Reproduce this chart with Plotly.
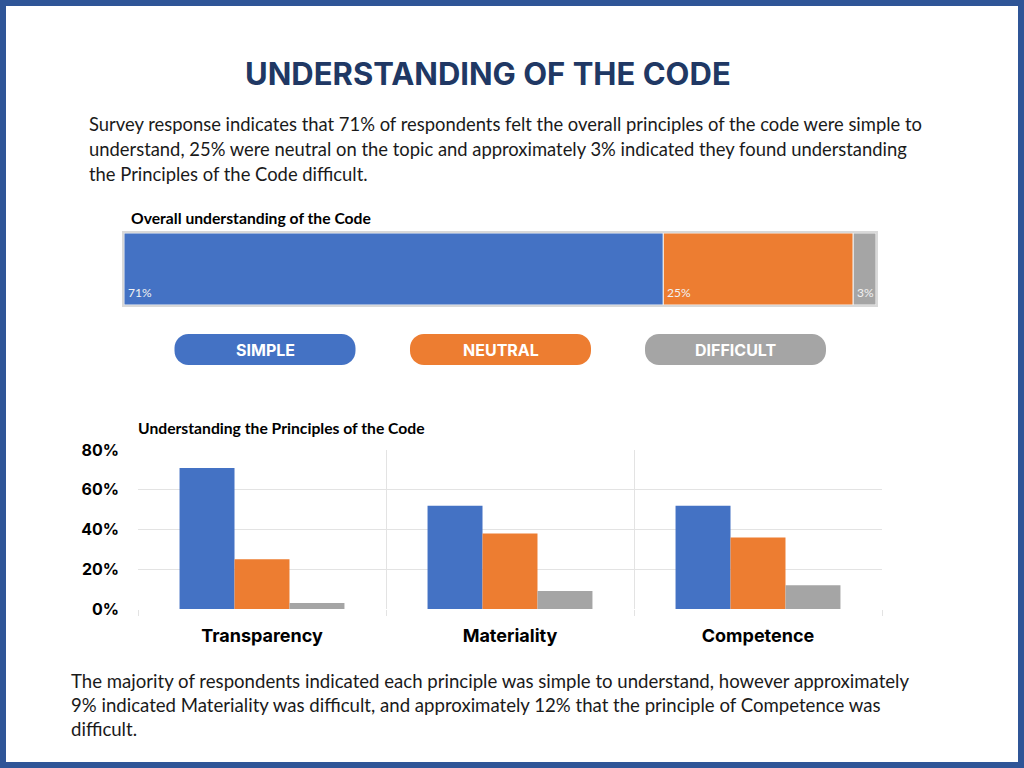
import plotly.graph_objects as go

W, H = 1024, 768

# ---------------- data ----------------
series_names = ["Simple", "Neutral", "Difficult"]
series_colors = ["#4472C4", "#ED7D31", "#A5A5A5"]
overall_values = [71, 25, 3]

principles = ["Transparency", "Materiality", "Competence"]
simple_vals = [71, 52, 52]
neutral_vals = [25, 38, 36]
difficult_vals = [3, 9, 12]

y_ticks = [0, 20, 40, 60, 80]
y_tick_labels = [f"{v}%" for v in y_ticks]

title_text = "UNDERSTANDING OF THE CODE"
intro_lines = [
    "Survey response indicates that 71% of respondents felt the overall principles of the code were simple to",
    "understand, 25% were neutral on the topic and approximately 3% indicated they found understanding",
    "the Principles of the Code difficult.",
]
outro_lines = [
    "The majority of respondents indicated each principle was simple to understand, however approximately",
    "9% indicated Materiality was difficult, and approximately 12% that the principle of Competence was",
    "difficult.",
]


def px(x):
    return x / W


def py(y):
    return 1 - y / H


BODY_FONT = "Lato, 'Open Sans', sans-serif"
HEAD_FONT = "Inter, Roboto, sans-serif"

fig = go.Figure()

# ---------------- overall stacked bar ----------------
total = sum(overall_values)
bases = []
cum = 0
for v in overall_values:
    bases.append(cum)
    cum += v

annotations = []
for name, val, base, col in zip(series_names, overall_values, bases, series_colors):
    fig.add_trace(go.Bar(
        x=[val], y=["Overall"], base=[base], orientation="h", name=name,
        marker=dict(color=col, line=dict(color="#F2F2F2", width=1)),
        xaxis="x2", yaxis="y2", showlegend=False, hoverinfo="skip",
        offsetgroup="overall", width=1,
    ))
    annotations.append(dict(
        x=base, y=0, xref="x2", yref="y2 domain", text=f"{val}%",
        xanchor="left", yanchor="bottom", xshift=2, yshift=3, showarrow=False,
        font=dict(family=BODY_FONT, size=12, color="#F2F2F2"),
    ))

# ---------------- grouped bar chart ----------------
for name, vals, col in zip(series_names, [simple_vals, neutral_vals, difficult_vals], series_colors):
    fig.add_trace(go.Bar(
        x=principles, y=vals, name=name, marker=dict(color=col, line=dict(width=0)),
        xaxis="x", yaxis="y", showlegend=False, hoverinfo="skip",
    ))

# ---------------- texts ----------------
annotations.append(dict(
    x=px(488), y=py(74), xref="paper", yref="paper", text=f"<b>{title_text}</b>",
    xanchor="center", yanchor="middle", showarrow=False,
    font=dict(family=HEAD_FONT, size=31, color="#203864"),
))
for i, line in enumerate(intro_lines):
    annotations.append(dict(
        x=px(87), y=py(124 + 25 * i), xref="paper", yref="paper", text=line,
        xanchor="left", yanchor="middle", showarrow=False,
        font=dict(family=BODY_FONT, size=18.4, color="#1a1a1a"),
    ))
for i, line in enumerate(outro_lines):
    annotations.append(dict(
        x=px(69), y=py(681 + 24 * i), xref="paper", yref="paper", text=line,
        xanchor="left", yanchor="middle", showarrow=False,
        font=dict(family=BODY_FONT, size=18.6, color="#1a1a1a"),
    ))
annotations.append(dict(
    x=px(129), y=py(218), xref="paper", yref="paper", text="<b>Overall understanding of the Code</b>",
    xanchor="left", yanchor="middle", showarrow=False,
    font=dict(family=BODY_FONT, size=15.7, color="#000000"),
))
annotations.append(dict(
    x=px(136), y=py(428), xref="paper", yref="paper", text="<b>Understanding the Principles of the Code</b>",
    xanchor="left", yanchor="middle", showarrow=False,
    font=dict(family=BODY_FONT, size=15.7, color="#000000"),
))

# ---------------- legend pills ----------------
shapes = []


def pill(x0, y0, x1, y1, r):
    k = 0.5523 * r
    pts = [
        ("M", [(x0 + r, y0)]),
        ("L", [(x1 - r, y0)]),
        ("C", [(x1 - r + k, y0), (x1, y0 + r - k), (x1, y0 + r)]),
        ("L", [(x1, y1 - r)]),
        ("C", [(x1, y1 - r + k), (x1 - r + k, y1), (x1 - r, y1)]),
        ("L", [(x0 + r, y1)]),
        ("C", [(x0 + r - k, y1), (x0, y1 - r + k), (x0, y1 - r)]),
        ("L", [(x0, y0 + r)]),
        ("C", [(x0, y0 + r - k), (x0 + r - k, y0), (x0 + r, y0)]),
    ]
    s = ""
    for cmd, p in pts:
        s += cmd + " ".join(f"{px(a):.5f},{py(b):.5f}" for a, b in p) + " "
    return s + "Z"


pill_centers = [265, 500.5, 735.5]
for name, col, cx in zip(series_names, series_colors, pill_centers):
    shapes.append(dict(type="path", path=pill(cx - 90.5, 334, cx + 90.5, 365, 14),
                       xref="paper", yref="paper", fillcolor=col, line=dict(width=0), layer="above"))
    annotations.append(dict(
        x=px(cx), y=py(349.5), xref="paper", yref="paper", text=f"<b>{name.upper()}</b>",
        xanchor="center", yanchor="middle", showarrow=False,
        font=dict(family=HEAD_FONT, size=16, color="#FFFFFF"),
    ))

# frame border
shapes.append(dict(type="rect", x0=px(3), x1=px(W - 3), y0=py(H - 3), y1=py(3),
                   xref="paper", yref="paper", line=dict(color="#2F5597", width=6),
                   fillcolor="rgba(0,0,0,0)", layer="above"))

fig.update_layout(
    width=W, height=H, autosize=False,
    margin=dict(l=0, r=0, t=0, b=0, pad=0, autoexpand=False),
    paper_bgcolor="white", plot_bgcolor="white",
    barmode="group", bargap=0.335, bargroupgap=0,
    shapes=shapes, annotations=annotations,
    xaxis=dict(
        domain=[px(138), px(882)], type="category", tickson="boundaries",
        showgrid=True, gridcolor="#E3E3E3", gridwidth=1,
        ticks="outside", ticklen=6, tickcolor="#E3E3E3",
        showline=False, zeroline=False, ticklabelstandoff=14, automargin=False,
        tickfont=dict(family=HEAD_FONT, size=18, color="#000000", weight="bold"),
        fixedrange=True,
    ),
    yaxis=dict(
        domain=[py(609), py(450)], range=[0, 80], tickvals=y_ticks, ticktext=y_tick_labels,
        showgrid=True, gridcolor="#E3E3E3", gridwidth=1, zeroline=False, showline=False,
        ticks="", ticklabelstandoff=18, automargin=False,
        tickfont=dict(family=HEAD_FONT, size=16, color="#000000", weight="bold"),
        fixedrange=True,
    ),
    xaxis2=dict(
        domain=[px(124), px(876)], range=[0, total], anchor="y2", automargin=False,
        showgrid=False, zeroline=False, showticklabels=False, ticks="",
        showline=True, mirror=True, linecolor="#D9D9D9", linewidth=2, fixedrange=True,
    ),
    yaxis2=dict(
        domain=[py(305), py(233)], anchor="x2", automargin=False,
        showgrid=False, zeroline=False, showticklabels=False, ticks="",
        showline=True, mirror=True, linecolor="#D9D9D9", linewidth=2, fixedrange=True,
    ),
)

post_js = (
    "document.documentElement.style.margin='0';"
    "document.documentElement.style.overflow='hidden';"
    "document.body.style.margin='0';"
    "document.body.style.overflow='hidden';"
    "var d=document.querySelector('.plotly-graph-div');"
    "d.style.position='fixed';d.style.top='0px';d.style.left='0px';"
)

fig.write_html("out.html", config={"displayModeBar": False}, post_script=post_js)
